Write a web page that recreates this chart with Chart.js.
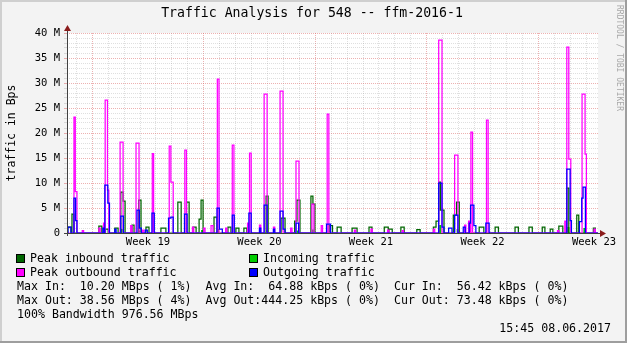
<!DOCTYPE html>
<html>
<head>
<meta charset="utf-8">
<script src="https://cdn.jsdelivr.net/npm/chart.js@4.4.1/dist/chart.umd.min.js"></script>
<style>
  html, body { margin: 0; padding: 0; background: #f3f3f3; }
  canvas { display: block; }
</style>
</head>
<body>
<canvas id="traffic" width="627" height="343"></canvas>
<script>
// time axis: hours since graph start (Sat 06.05.2017 ~10:00), values in MBps
const hoursShown = 800;
const firstMonday = 38;   // Mon 08.05.2017 00:00
const firstWeek = 19;
const yMax = 40;

// step segments: [start h, end h, MBps]
const peakIn = [
  [1, 6, 1.2], [7.5, 10.5, 3.8], [48, 52.5, 1.4], [58, 62, 0.8], [72, 77, 1.0],
  [81, 84.5, 8.2], [84.5, 87.5, 6.4], [98, 101, 1.6], [108, 111.5, 6.6], [119, 123.5, 1.2],
  [141.5, 149, 1.0], [167, 172, 6.2], [180, 184, 6.2], [190, 194.5, 1.2], [199, 202, 2.8],
  [202, 205, 6.6], [221.5, 226, 3.2], [242.5, 247, 1.2], [254.5, 259, 1.0], [266.5, 271, 1.0],
  [300, 303, 7.4], [322.5, 328.5, 3.0], [343, 346.5, 2.4], [346.5, 351, 6.6], [367.5, 370.5, 7.4],
  [370.5, 373.5, 5.8], [395, 400, 1.5], [407, 413, 1.2], [429.5, 437, 1.0], [455, 459.5, 1.2],
  [478, 484, 1.2], [485, 490, 0.8], [503, 508, 1.2], [527, 532, 0.7], [552, 556, 1.2],
  [556, 560, 2.4], [560, 562.5, 10.2], [562.5, 568, 4.6], [582, 587, 3.6], [587, 591, 6.2],
  [621, 628, 1.2], [645, 650, 1.2], [675, 680, 1.2], [696, 701, 1.2], [716, 720, 1.2],
  [728, 732, 0.8], [741, 747, 1.4], [753, 756, 9.0], [768, 771, 3.6], [793, 796, 1.0]
];
const avgIn = [
  [81, 84, 0.8], [108, 110, 0.5], [202, 205, 0.6], [226, 229, 0.8], [300, 302, 0.6],
  [346, 349, 0.5], [369, 372, 0.7], [560, 564, 1.6], [587, 590, 0.8], [753, 757, 1.2],
  [778, 781, 1.0]
];
const peakOut = [
  [10.5, 12.5, 23.2], [12.5, 15, 8.3], [23, 25, 0.5], [48, 50, 1.0], [55, 57, 2.0],
  [57.5, 61, 26.6], [61, 63, 8.6], [80, 84.5, 18.2], [96, 98, 1.5], [104, 108.5, 18.0],
  [114, 116, 0.6], [128.5, 130.5, 15.9], [154, 156.5, 17.4], [156.5, 160, 10.2], [177.5, 180, 16.6],
  [189, 191, 1.2], [206, 208, 1.0], [217, 220, 1.5], [226.5, 229, 30.8], [239, 241, 1.0],
  [249, 251.5, 17.6], [272, 274, 2.0], [275, 277.5, 16.0], [290, 292, 1.6], [297, 301.5, 27.8],
  [311, 313, 1.2], [321, 325.5, 28.4], [337, 339, 1.0], [345, 349.5, 14.4], [369, 372, 5.8],
  [383, 385, 1.5], [392, 394.5, 23.8], [433, 435, 0.6], [458, 460, 0.8], [483, 485, 0.6],
  [505, 507, 0.5], [552, 554, 0.8], [560, 565, 38.6], [584, 589, 15.6], [599, 601, 1.6],
  [605, 607, 2.4], [608.5, 611, 20.2], [632, 634.5, 22.6], [739, 741, 0.5], [750, 752, 2.4],
  [753, 756, 37.2], [756, 759, 14.8], [776, 780.5, 27.8], [780.5, 782.5, 15.8], [794, 796, 0.8]
];
const avgOut = [
  [1.5, 6, 1.2], [10.5, 13, 7.0], [13, 15, 2.5], [54, 56, 1.0], [57, 61.5, 9.6],
  [61.5, 64, 6.0], [72, 74, 0.8], [81, 85, 3.4], [105.5, 109, 4.6], [109, 112, 1.0],
  [118, 121, 0.6], [128, 131.5, 4.0], [153, 156.5, 3.0], [156.5, 160, 3.2], [177, 181, 3.8],
  [226, 229.5, 5.0], [229.5, 234, 0.8], [249, 252, 3.6], [274, 277.5, 4.0], [290, 292, 1.0],
  [297, 301.5, 5.6], [311, 313, 0.8], [321, 325.5, 4.4], [325.5, 328.5, 0.8], [345, 349, 2.0],
  [391, 397, 1.8], [560, 565, 10.0], [565, 568, 1.2], [575, 580, 1.0], [584, 589, 3.6],
  [597, 600, 1.2], [606, 608, 2.0], [608, 613, 5.6], [613, 616, 1.5], [631, 636, 2.0],
  [753, 758, 12.8], [758, 760, 2.5], [772, 775.5, 2.3], [775.5, 777.5, 7.0], [777.5, 781, 9.2]
];

const title = "Traffic Analysis for 548 -- ffm-2016-1";
const legendItems = [
  ["Peak inbound traffic", "#006600"], ["Incoming traffic", "#00cc00"],
  ["Peak outbound traffic", "#ff00ff"], ["Outgoing traffic", "#0000ff"]
];
const statLines = [
  "Max In:  10.20 MBps ( 1%)  Avg In:  64.88 kBps ( 0%)  Cur In:  56.42 kBps ( 0%)",
  "Max Out: 38.56 MBps ( 4%)  Avg Out:444.25 kBps ( 0%)  Cur Out: 73.48 kBps ( 0%)",
  "100% Bandwidth 976.56 MBps"
];
const stamp = "15:45 08.06.2017";

const MONO = '"DejaVu Sans Mono", "Liberation Mono", monospace';
const MAJOR = "rgba(220, 100, 100, 0.5)";
const MINOR = "rgba(150, 150, 150, 0.3)";

// turn segments into points for a stepped line
function steps(segs) {
  const pts = [{ x: 0, y: 0 }];
  segs.forEach((s, i) => {
    pts.push({ x: s[0], y: s[2] });
    const next = segs[i + 1];
    if (!next || next[0] > s[1]) pts.push({ x: s[1], y: 0 });
  });
  pts.push({ x: hoursShown, y: 0 });
  return pts;
}

const frame = {
  id: "frame",
  beforeDraw(chart) {
    const { ctx, width, height, chartArea: a } = chart;
    ctx.save();
    ctx.fillStyle = "#f3f3f3";
    ctx.fillRect(0, 0, width, height);
    ctx.fillStyle = "#cfcfcf";
    ctx.fillRect(0, 0, width, 2);
    ctx.fillRect(0, 0, 2, height);
    ctx.fillStyle = "#9e9e9e";
    ctx.fillRect(0, height - 2, width, 2);
    ctx.fillRect(width - 2, 0, 2, height);
    ctx.fillStyle = "#ffffff";
    ctx.fillRect(a.left, a.top, a.right - a.left, a.bottom - a.top);
    ctx.restore();
  },
  afterDatasetsDraw(chart) {
    const { ctx, chartArea: a } = chart;
    ctx.save();
    ctx.strokeStyle = "#404040";
    ctx.lineWidth = 1;
    ctx.beginPath();
    ctx.moveTo(a.left - 3, a.bottom + 0.5);
    ctx.lineTo(a.right + 2, a.bottom + 0.5);
    ctx.moveTo(a.left + 0.5, a.bottom + 3);
    ctx.lineTo(a.left + 0.5, a.top - 2);
    ctx.stroke();
    ctx.fillStyle = "#8b1c1c";
    ctx.beginPath();
    ctx.moveTo(a.right + 8, a.bottom + 0.5);
    ctx.lineTo(a.right + 2, a.bottom - 3);
    ctx.lineTo(a.right + 2, a.bottom + 4);
    ctx.closePath();
    ctx.fill();
    ctx.beginPath();
    ctx.moveTo(a.left + 0.5, a.top - 8);
    ctx.lineTo(a.left - 3, a.top - 2);
    ctx.lineTo(a.left + 4, a.top - 2);
    ctx.closePath();
    ctx.fill();
    ctx.restore();
  },
  afterDraw(chart) {
    const { ctx, width, chartArea: a } = chart;
    ctx.save();
    ctx.fillStyle = "#000";
    ctx.textBaseline = "middle";
    ctx.font = "13.2px " + MONO;
    ctx.textAlign = "center";
    ctx.fillText(title, 312, 14);

    // y axis title
    ctx.save();
    ctx.translate(12, (a.top + a.bottom) / 2);
    ctx.rotate(-Math.PI / 2);
    ctx.font = "11.5px " + MONO;
    ctx.fillText("traffic in Bps", 0, 0);
    ctx.restore();

    // watermark
    ctx.save();
    ctx.translate(width - 8, 5);
    ctx.rotate(Math.PI / 2);
    ctx.textAlign = "left";
    ctx.fillStyle = "#a8a8a8";
    ctx.font = "8px " + MONO;
    ctx.fillText("RRDTOOL / TOBI OETIKER", 0, 0);
    ctx.restore();

    ctx.textAlign = "left";
    ctx.font = "11.6px " + MONO;
    legendItems.forEach((item, i) => {
      const col = i % 2, row = Math.floor(i / 2);
      const bx = col ? 249 : 16;
      const y = 259 + row * 14;
      ctx.fillStyle = item[1];
      ctx.fillRect(bx, y - 5, 9, 9);
      ctx.strokeStyle = "#000";
      ctx.lineWidth = 1;
      ctx.strokeRect(bx + 0.5, y - 4.5, 8, 8);
      ctx.fillStyle = "#000";
      ctx.fillText(item[0], bx + 14, y);
    });
    statLines.forEach((line, i) => {
      ctx.fillText(line, 17, 287 + i * 14);
    });
    ctx.textAlign = "right";
    ctx.fillText(stamp, 611, 329);
    ctx.restore();
  }
};

function xGridColor(ctx) {
  const v = ctx.tick ? ctx.tick.value : 0;
  const d = v - firstMonday;
  if (d % 168 === 0) return MAJOR;
  if (d % 24 === 0) return MINOR;
  return "rgba(0,0,0,0)";
}

new Chart(document.getElementById("traffic"), {
  type: "line",
  data: {
    datasets: [
      { label: "Outgoing traffic", data: steps(avgOut), borderColor: "#0000ff" },
      { label: "Peak outbound traffic", data: steps(peakOut), borderColor: "#ff00ff" },
      { label: "Peak inbound traffic", data: steps(peakIn), borderColor: "#006600" },
      { label: "Incoming traffic", data: steps(avgIn), borderColor: "#00cc00",
        borderWidth: 0, backgroundColor: "#00cc00", fill: "origin" }
    ]
  },
  options: {
    responsive: false,
    animation: false,
    devicePixelRatio: 1,
    layout: { padding: { left: 0, top: 33, right: 29, bottom: 0 } },
    elements: {
      line: { borderWidth: 1.25, stepped: true, tension: 0, fill: false },
      point: { radius: 0, hoverRadius: 0 }
    },
    plugins: { legend: { display: false }, tooltip: { enabled: false } },
    scales: {
      x: {
        type: "linear",
        min: 0,
        max: hoursShown,
        afterFit(scale) { scale.height = 110; },
        afterBuildTicks(scale) {
          const ticks = [];
          for (let h = firstMonday % 24; h <= hoursShown; h += 24) ticks.push({ value: h });
          for (let w = 0; firstMonday + 84 + w * 168 <= hoursShown; w++) {
            ticks.push({ value: firstMonday + 84 + w * 168 });
          }
          ticks.sort((p, q) => p.value - q.value);
          scale.ticks = ticks;
        },
        grid: { color: xGridColor, lineWidth: 1, drawTicks: false },
        border: { display: false, dash: [1, 1] },
        ticks: {
          autoSkip: false,
          maxRotation: 0,
          padding: 3,
          color: "#000",
          font: { family: MONO, size: 10.5 },
          callback(v) {
            const d = v - firstMonday - 84;
            if (d >= 0 && d % 168 === 0) return "Week " + (firstWeek + d / 168);
            return "";
          }
        }
      },
      y: {
        min: 0,
        max: yMax,
        afterFit(scale) { scale.width = 67; },
        grid: {
          color: (c) => (c.tick && c.tick.value % 5 === 0 ? MAJOR : MINOR),
          lineWidth: 1,
          drawTicks: true,
          tickLength: 3
        },
        border: { display: false, dash: [1, 1] },
        ticks: {
          stepSize: 1,
          autoSkip: false,
          padding: 4,
          color: "#000",
          font: { family: MONO, size: 10.5 },
          callback(v) {
            if (v % 5 !== 0) return "";
            return v === 0 ? "0" : v + " M";
          }
        }
      }
    }
  },
  plugins: [frame]
});
</script>
</body>
</html>
